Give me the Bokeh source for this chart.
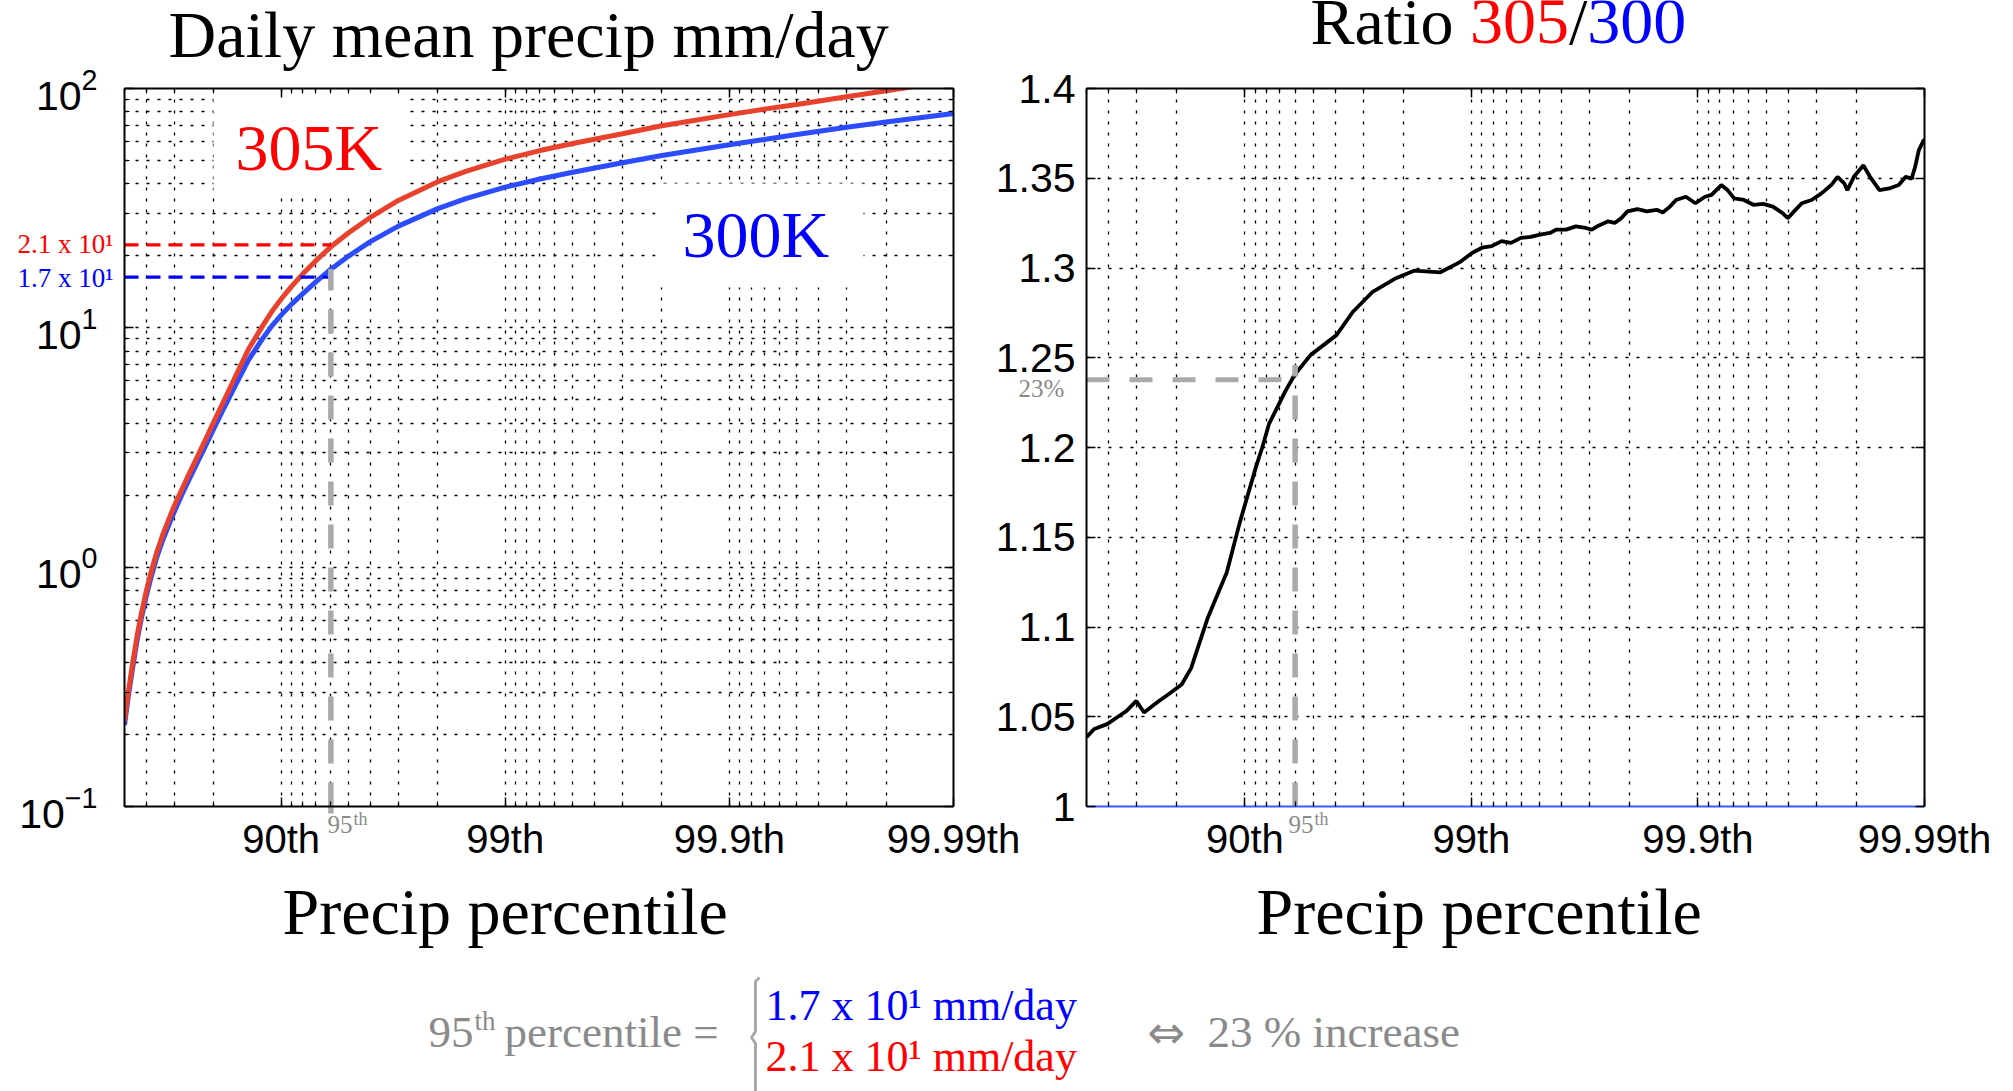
import numpy as np
from bokeh.plotting import figure
from bokeh.layouts import row, column
from bokeh.models import (Range1d, FixedTicker, LinearAxis, LogAxis, Label,
                          LinearScale, LogTickFormatter)
from bokeh.embed import file_html
from bokeh.resources import INLINE

# ------------------------------------------------------------------ data
pct = [50, 52, 54, 56, 58, 60, 62, 64, 66, 68, 70, 72, 74, 76, 78, 80, 82, 84, 86, 88,
       89, 90, 91, 92, 93, 94, 95, 96, 97, 98, 98.5, 99, 99.3, 99.5, 99.7, 99.8, 99.9,
       99.93, 99.95, 99.97, 99.98, 99.99]
precip_300K = [0.219, 0.292, 0.379, 0.491, 0.615, 0.757, 0.912, 1.089, 1.274, 1.472,
               1.702, 1.968, 2.280, 2.661, 3.141, 3.784, 4.624, 5.754, 7.328, 9.120,
               10.19, 11.30, 12.53, 13.90, 15.56, 17.58, 19.95, 22.91, 26.61, 31.48,
               34.67, 38.73, 41.88, 44.67, 48.98, 52.48, 58.21, 61.24, 64.27, 68.87,
               72.44, 78.70]
precip_305K = [0.227, 0.304, 0.396, 0.513, 0.643, 0.792, 0.957, 1.143, 1.340, 1.554,
               1.801, 2.072, 2.408, 2.815, 3.336, 4.035, 4.957, 6.260, 8.134, 10.31,
               11.70, 13.20, 14.87, 16.81, 19.08, 21.80, 24.96, 28.92, 34.08, 40.79,
               45.05, 50.66, 55.04, 58.91, 64.75, 69.87, 77.79, 82.01, 85.76, 92.40,
               97.86, 107.9]

ratio_pct = [50.0, 53.76, 59.45, 63.27, 66.73, 69.87, 72.14, 74.41, 76.07, 78.27,
             80.99, 82.74, 85.38, 87.98, 89.46, 91.07, 91.62, 92.17, 93.35, 93.97,
             94.88, 96.06, 96.66, 97.26, 97.82, 98.21, 98.63, 98.87,
             99.010, 99.103, 99.187, 99.264, 99.332, 99.395, 99.452, 99.503, 99.550, 99.578,
             99.618, 99.654, 99.687, 99.706, 99.725, 99.751, 99.767, 99.782, 99.795, 99.815,
             99.832, 99.848, 99.857, 99.867, 99.875, 99.887, 99.8974, 99.9069, 99.9129, 99.9211,
             99.9260, 99.9308, 99.9373, 99.9431, 99.9485, 99.9533, 99.9577, 99.9599, 99.9629, 99.9652,
             99.9685, 99.9715, 99.9742, 99.9758, 99.9774, 99.9781, 99.9795, 99.9814, 99.9826, 99.9842,
             99.9857, 99.9870, 99.9879, 99.9886, 99.9890, 99.9894, 99.9899, 99.99]
ratio_val = [1.0386, 1.0432, 1.0459, 1.0496, 1.0533, 1.0588, 1.0524, 1.0560, 1.0588, 1.0625,
             1.0680, 1.0771, 1.1047, 1.1304, 1.1580, 1.1892, 1.200, 1.213, 1.231, 1.2405,
             1.2516, 1.2626, 1.2755, 1.2865, 1.294, 1.2985, 1.2976, 1.3031,
             1.3085, 1.3113, 1.3122, 1.3150, 1.3140, 1.3168, 1.3173, 1.3186, 1.3195, 1.3214,
             1.3214, 1.3232, 1.3223, 1.3214, 1.3236, 1.3260, 1.3251, 1.3278, 1.3315, 1.3328,
             1.3315, 1.3324, 1.3309, 1.3342, 1.3379, 1.3397, 1.3361, 1.3397, 1.3407, 1.3462,
             1.3434, 1.3388, 1.3379, 1.3352, 1.3357, 1.3342, 1.3306, 1.3278, 1.3324, 1.3361,
             1.3379, 1.3416, 1.3462, 1.3508, 1.3471, 1.3434, 1.3508, 1.3572, 1.3508, 1.3434,
             1.3443, 1.3462, 1.3508, 1.3498, 1.3563, 1.3655, 1.3710, 1.3715]

tick_pct = [90, 99, 99.9, 99.99]
tick_labels = ["90th", "99th", "99.9th", "99.99th"]
precip_ticks = [0.1, 1, 10, 100]
ratio_ticks = [1, 1.05, 1.1, 1.15, 1.2, 1.25, 1.3, 1.35, 1.4]
ratio_tick_labels = ["1", "1.05", "1.1", "1.15", "1.2", "1.25", "1.3", "1.35", "1.4"]

marker_pct = 94.0          # grey "95th" marker line position
marker_300K = 16.3         # blue dashed level
marker_305K = 22.2         # red dashed level
marker_top_left = 17.6
marker_ratio = 1.2378
marker_top_right = 1.246

# ------------------------------------------------------------------ helpers
RED_C = "#e8412c"
BLUE_C = "#2b4cff"
GREY_L = "#aaaaaa"
GREY_T = "#8a8a8a"
SERIF = "Liberation Serif"
SANS = "Liberation Sans"
BASE_SHIFT = 0.36   # compensates Bokeh's placement of the alphabetic baseline


def pos(p):
    return -np.log10(1.0 - np.asarray(p, dtype=float) / 100.0)


X_MIN = float(pos(50.0))
X_MAX = float(round(float(pos(99.99)), 6))
major_x = [float(round(float(pos(t)), 6)) for t in tick_pct]
minor_exc = [m * 0.1 for m in range(2, 6)] + [m * 10.0 ** (-k) for k in (2, 3, 4, 5) for m in range(2, 10)]
minor_x = sorted(float(-np.log10(e)) for e in minor_exc if X_MIN - 1e-9 <= -np.log10(e) <= X_MAX + 1e-9)
x_ticker = FixedTicker(ticks=major_x, minor_ticks=minor_x)
x_over = {k: v for k, v in zip(major_x, tick_labels)}


def style_axis(ax, labels=True, size="40px", standoff=10):
    ax.axis_line_color = "black"
    ax.axis_line_width = 2
    ax.major_tick_in = 9
    ax.major_tick_out = 0
    ax.minor_tick_in = 5
    ax.minor_tick_out = 0
    ax.major_tick_line_color = "black"
    ax.major_tick_line_width = 1.5
    ax.minor_tick_line_color = "black"
    ax.minor_tick_line_width = 1.2
    ax.major_label_text_font = SANS
    ax.major_label_text_color = "black"
    if labels:
        ax.major_label_text_font_size = size
        ax.major_label_standoff = standoff
    else:
        ax.major_label_text_font_size = "1px"
        ax.major_label_text_alpha = 0
        ax.major_label_standoff = 0


def style_grid(g, minor=True):
    g.grid_line_color = "black"
    g.grid_line_dash = "3 8"
    g.grid_line_width = 1.3
    if minor:
        g.minor_grid_line_color = "black"
        g.minor_grid_line_dash = "3 8"
        g.minor_grid_line_width = 1.3


def lab(p, x, y, text, size, color="black", font=SERIF, px=True):
    """y is the wanted alphabetic baseline (page pixels)."""
    kw = dict(x_range_name="px", y_range_name="px") if px else {}
    p.add_layout(Label(x=x, y=y - BASE_SHIFT * size, text=text, text_font=font,
                       text_font_size=f"{size}px", text_color=color, text_align="left",
                       text_baseline="alphabetic", **kw))


# ------------------------------------------------------------------ page background (free texts)
p0 = figure(width=2013, height=1091, x_range=Range1d(0, 2013), y_range=Range1d(1091, 0),
            output_backend="svg", toolbar_location=None, min_border=0,
            x_axis_location=None, y_axis_location=None, outline_line_color=None,
            background_fill_color="white", border_fill_color="white")
p0.grid.visible = False

lab(p0, 168, 58, "Daily mean precip mm/day", 66, px=False)
lab(p0, 282, 935, "Precip percentile", 66, px=False)
lab(p0, 17, 253, "2.1 x 10\u00b9", 27, "#ff0000", px=False)
lab(p0, 17, 287, "1.7 x 10\u00b9", 27, "#0000ff", px=False)
lab(p0, 327, 833, "95", 25, GREY_T, px=False)
lab(p0, 353, 825, "th", 18, GREY_T, px=False)

em = 66
tx = 1310
ty = 45
lab(p0, tx, ty, "Ratio", em, px=False)
lab(p0, tx + 2.417 * em, ty, "305", em, "#ff0000", px=False)
lab(p0, tx + 3.917 * em, ty, "/", em, px=False)
lab(p0, tx + 4.195 * em, ty, "300", em, "#0000ff", px=False)
lab(p0, 1256, 935, "Precip percentile", 66, px=False)
lab(p0, 1018, 397, "23%", 25, GREY_T, px=False)
lab(p0, 1288, 833, "95", 25, GREY_T, px=False)
lab(p0, 1314, 825, "th", 18, GREY_T, px=False)

# bottom formula
p0.line([759, 755, 755, 751, 755, 755], [977, 981, 1031, 1037, 1043, 1091],
        line_color=GREY_L, line_width=3)
lab(p0, 428, 1048, "95", 45, GREY_T, px=False)
lab(p0, 474, 1030, "th", 27, GREY_T, px=False)
lab(p0, 504, 1048, "percentile =", 45, GREY_T, px=False)
lab(p0, 765, 1021, "1.7 x 10\u00b9 mm/day", 44, "#0000ff", px=False)
lab(p0, 765, 1072, "2.1 x 10\u00b9 mm/day", 44, "#ff0000", px=False)
lab(p0, 1147, 1048, "\u21d4", 45, GREY_T, font="DejaVu Sans", px=False)
lab(p0, 1207, 1048, "23 % increase", 45, GREY_T, px=False)

# ------------------------------------------------------------------ left plot
p1 = figure(width=1030, height=960, x_range=Range1d(X_MIN, X_MAX), y_range=Range1d(0.1, 100),
            y_axis_type="log", output_backend="svg", toolbar_location=None,
            min_border_left=124, min_border_right=77, min_border_top=88, min_border_bottom=154,
            outline_line_color=None, background_fill_color="white",
            border_fill_color="white", border_fill_alpha=0.0)
p1.extra_x_ranges = {"px": Range1d(124, 953)}
p1.extra_y_ranges = {"px": Range1d(806, 88)}
p1.extra_x_scales = {"px": LinearScale()}
p1.extra_y_scales = {"px": LinearScale()}

y_ticker = FixedTicker(ticks=precip_ticks,
                       minor_ticks=[m * 10.0 ** k for k in (-1, 0, 1) for m in range(2, 10)])
p1.xaxis.ticker = x_ticker
p1.xaxis.major_label_overrides = x_over
p1.yaxis.ticker = y_ticker
p1.yaxis.formatter = LogTickFormatter()
style_axis(p1.xaxis[0], standoff=10)
style_axis(p1.yaxis[0], size="41px", standoff=27)
top1 = LinearAxis(ticker=x_ticker)
style_axis(top1, labels=False)
p1.add_layout(top1, "above")
right1 = LogAxis(ticker=y_ticker)
style_axis(right1, labels=False)
p1.add_layout(right1, "right")
p1.xgrid.ticker = x_ticker
p1.ygrid.ticker = y_ticker
style_grid(p1.xgrid[0])
style_grid(p1.ygrid[0])

# white boxes behind the in-plot labels
p1.quad(left=[213, 655], right=[408, 863], top=[95, 183], bottom=[197, 287],
        x_range_name="px", y_range_name="px", fill_color="white", line_color=None)

xx = pos(pct)
mx = float(pos(marker_pct))
p1.line(xx, precip_300K, line_color=BLUE_C, line_width=5)
p1.line(xx, precip_305K, line_color=RED_C, line_width=5)
p1.line([X_MIN, mx], [marker_305K, marker_305K], line_color="#ff0000", line_width=3.3, line_dash="14 8")
p1.line([X_MIN, mx], [marker_300K, marker_300K], line_color="#0000ff", line_width=3.3, line_dash="14 8")
p1.line([mx, mx], [0.1, marker_top_left], line_color=GREY_L, line_width=5.5, line_dash="24 19")
lab(p1, 235, 171, "305K", 66, "#ff0000")
lab(p1, 682, 258, "300K", 66, "#0000ff")

# stub of the grey marker below the left frame (drawn on the page layer)
mx_page = 124 + (mx - X_MIN) / (X_MAX - X_MIN) * (953 - 124)
p0.line([mx_page, mx_page], [806, 813], line_color=GREY_L, line_width=5.5)

# ------------------------------------------------------------------ right plot
p2 = figure(width=1037, height=960, x_range=Range1d(X_MIN, X_MAX), y_range=Range1d(1.0, 1.4),
            output_backend="svg", toolbar_location=None,
            min_border_left=110, min_border_right=89, min_border_top=87, min_border_bottom=147,
            outline_line_color=None, background_fill_color="white", border_fill_color="white",
            border_fill_alpha=0.0, margin=(0, 0, 0, -54))

r_ticker = FixedTicker(ticks=ratio_ticks, minor_ticks=[])
p2.xaxis.ticker = x_ticker
p2.xaxis.major_label_overrides = x_over
p2.yaxis.ticker = r_ticker
p2.yaxis.major_label_overrides = {k: v for k, v in zip(ratio_ticks, ratio_tick_labels)}
style_axis(p2.xaxis[0], standoff=10)
style_axis(p2.yaxis[0], size="41px", standoff=11)
p2.xaxis[0].axis_line_color = "#3a5cff"
top2 = LinearAxis(ticker=x_ticker)
style_axis(top2, labels=False)
p2.add_layout(top2, "above")
right2 = LinearAxis(ticker=r_ticker)
style_axis(right2, labels=False)
p2.add_layout(right2, "right")
p2.xgrid.ticker = x_ticker
p2.ygrid.ticker = r_ticker
style_grid(p2.xgrid[0])
style_grid(p2.ygrid[0], minor=False)

p2.line(pos(ratio_pct), ratio_val, line_color="black", line_width=3.8)
p2.line([X_MIN, mx], [marker_ratio, marker_ratio], line_color=GREY_L, line_width=5, line_dash="23 20")
p2.line([mx, mx], [1.0, marker_top_right], line_color=GREY_L, line_width=5.5, line_dash="24 19")

plots = row(p1, p2, margin=(-1091, 0, 0, 0))
layout = column(p0, plots)
open("out.html", "w").write(file_html(layout, INLINE))
